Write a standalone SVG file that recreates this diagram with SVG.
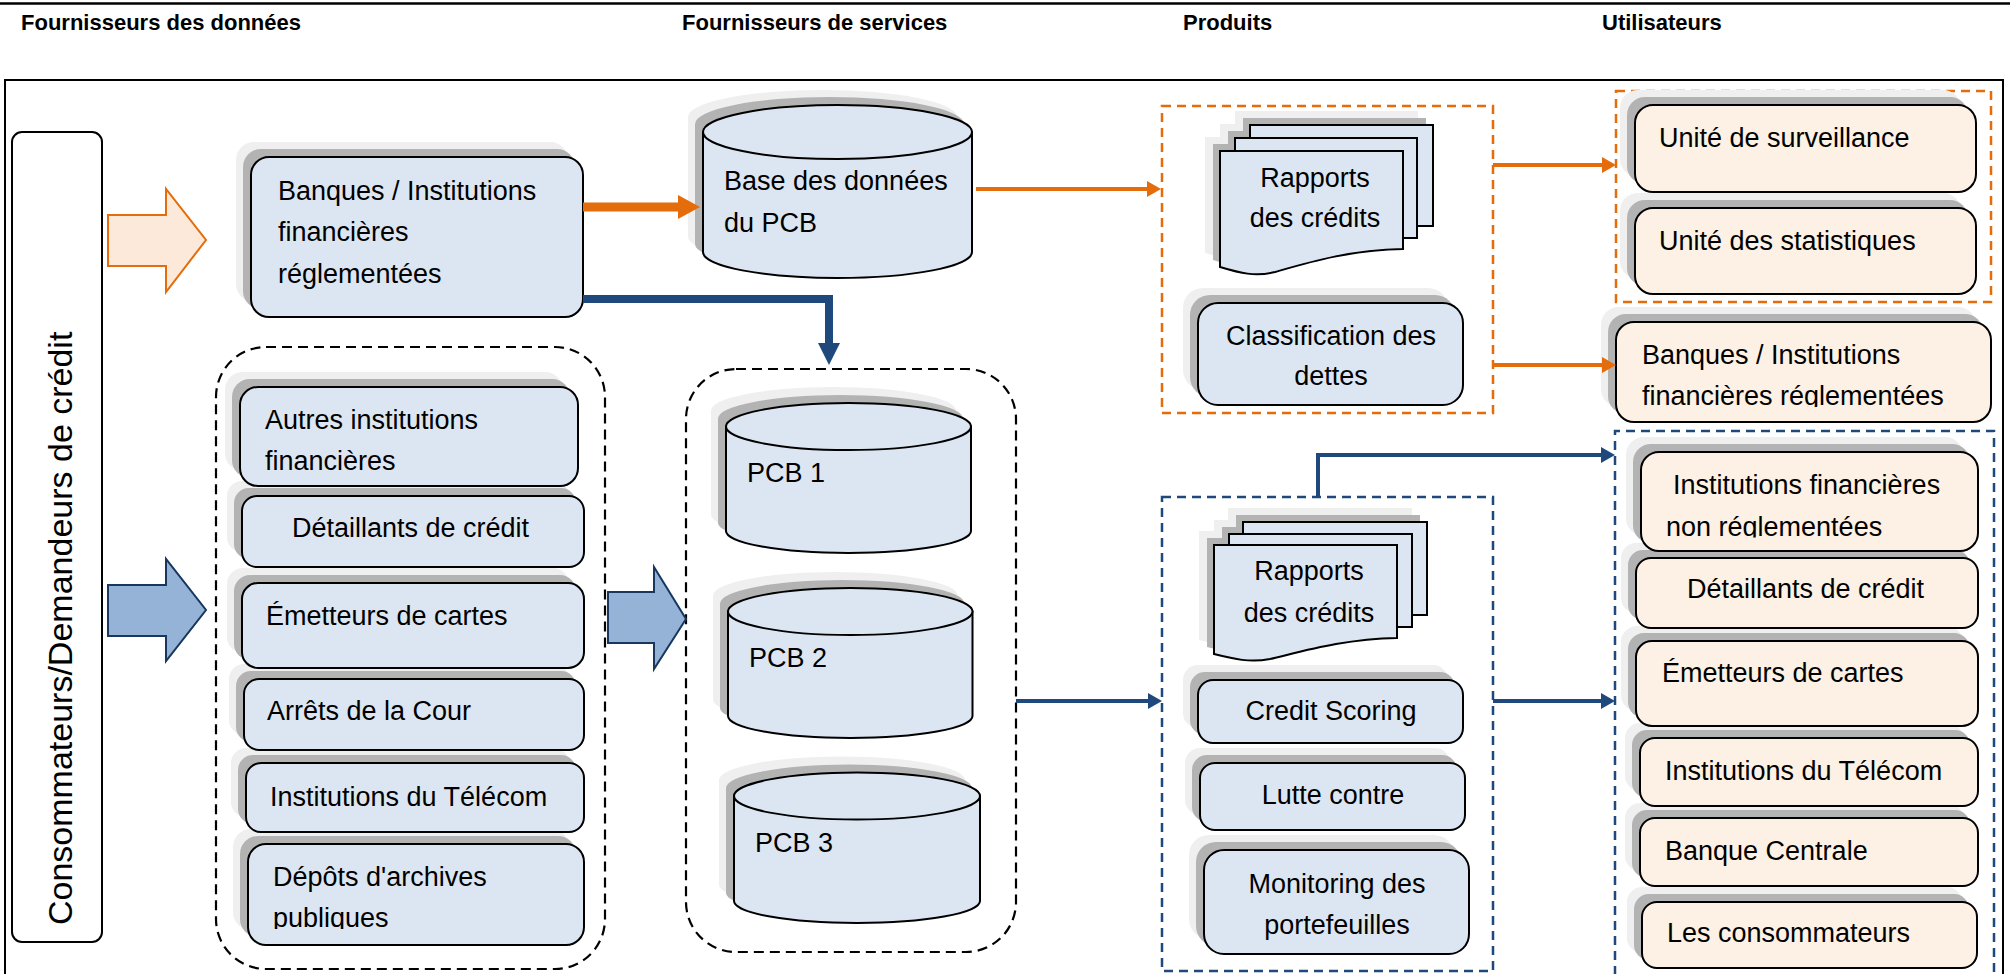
<svg xmlns="http://www.w3.org/2000/svg" xmlns:xlink="http://www.w3.org/1999/xlink" width="2010" height="974" viewBox="0 0 2010 974">
  <defs>
    <style>
      .hdr { font-family: "Liberation Sans", Arial, sans-serif; font-weight: bold; font-size: 22px; fill: #000; }
      .lbl { font-family: "Liberation Sans", Arial, sans-serif; font-size: 27px; fill: #000; }
      .mid { text-anchor: middle; }
      .side { font-family: "Liberation Sans", Arial, sans-serif; font-size: 34px; fill: #000; }
      .sh1 { fill: #efefef; }
      .sh2 { fill: #b3b3b3; }
      .bx { fill: #dce6f2; stroke: #000; stroke-width: 2; }
      .px { fill: #fdf0e4; stroke: #000; stroke-width: 2; }
      .grp-k { fill: none; stroke: #000; stroke-width: 2.2; stroke-dasharray: 10 6; }
      .grp-o { fill: none; stroke: #e46c0a; stroke-width: 2.5; stroke-dasharray: 9 6; }
      .grp-b { fill: none; stroke: #1f497d; stroke-width: 2.5; stroke-dasharray: 9 6; }
      .ln-o { fill: none; stroke: #e46c0a; stroke-width: 4; }
      .ln-b { fill: none; stroke: #1f497d; stroke-width: 4; }
      .ln-o-thick { fill: none; stroke: #e46c0a; stroke-width: 9; }
      .ln-b-thick { fill: none; stroke: #1f497d; stroke-width: 8; }
    </style>
    <marker id="ah-o" markerUnits="userSpaceOnUse" markerWidth="14" markerHeight="16" refX="1" refY="8" orient="auto" viewBox="0 0 14 16">
      <path d="M0,0 L14,8 L0,16 Z" fill="#e46c0a"/>
    </marker>
    <marker id="ah-b" markerUnits="userSpaceOnUse" markerWidth="14" markerHeight="16" refX="1" refY="8" orient="auto" viewBox="0 0 14 16">
      <path d="M0,0 L14,8 L0,16 Z" fill="#1f497d"/>
    </marker>
    <marker id="ah-o-thick" markerUnits="userSpaceOnUse" markerWidth="22" markerHeight="24" refX="2" refY="12" orient="auto" viewBox="0 0 22 24">
      <path d="M0,0 L22,12 L0,24 Z" fill="#e46c0a"/>
    </marker>
    <marker id="ah-b-thick" markerUnits="userSpaceOnUse" markerWidth="22" markerHeight="22" refX="2" refY="11" orient="auto" viewBox="0 0 22 22">
      <path d="M0,0 L22,11 L0,22 Z" fill="#1f497d"/>
    </marker>

    <!-- cylinder outlines (fill/stroke come from the <use>) -->
    <g id="cyl-base">
      <path d="M703,132 V252 A134.5,26 0 0 0 972,252 V132 Z"/>
      <ellipse cx="837.5" cy="132" rx="134.5" ry="27"/>
    </g>
    <g id="cyl-1">
      <path d="M726,426.5 V531 A122.5,22 0 0 0 971,531 V426.5 Z"/>
      <ellipse cx="848.5" cy="426.5" rx="122.5" ry="23.5"/>
    </g>
    <g id="cyl-2">
      <path d="M728,611.5 V716 A122.25,22 0 0 0 972.5,716 V611.5 Z"/>
      <ellipse cx="850.25" cy="611.5" rx="122.25" ry="23.5"/>
    </g>
    <g id="cyl-3">
      <path d="M734,796 V901 A123,22 0 0 0 980,901 V796 Z"/>
      <ellipse cx="857" cy="796" rx="123" ry="23.5"/>
    </g>

    <!-- stacked report sheets -->
    <g id="stack-top">
      <rect x="1250" y="125" width="183" height="101"/>
      <rect x="1235" y="138" width="182" height="100"/>
      <path d="M1220,151 H1403 V249 C1350,250 1310,262 1275,272 C1255,277 1240,273 1220,267 Z"/>
    </g>
    <g id="stack-bot">
      <rect x="1243" y="522" width="184" height="93"/>
      <rect x="1229" y="534" width="183" height="93"/>
      <path d="M1214,545 H1397 V638 C1344,639 1304,651 1270,659 C1250,663 1234,659 1214,654 Z"/>
    </g>

    <clipPath id="clip-banques-r"><rect x="1610" y="320" width="390" height="87"/></clipPath>
    <clipPath id="clip-ifnr"><rect x="1635" y="450" width="350" height="87.5"/></clipPath>
    <clipPath id="clip-depots"><rect x="240" y="840" width="350" height="89"/></clipPath>
  </defs>

  <rect x="0" y="0" width="2010" height="974" fill="#ffffff"/>

  <!-- page frame -->
  <g id="frame">
    <line x1="0" y1="3.5" x2="2010" y2="3.5" stroke="#000" stroke-width="2.5"/>
    <path d="M5,990 V80 H2003 V990" fill="none" stroke="#000" stroke-width="2"/>
  </g>

  <!-- column headings -->
  <g id="headings">
    <text class="hdr" x="21" y="30">Fournisseurs des données</text>
    <text class="hdr" x="682" y="30">Fournisseurs de services</text>
    <text class="hdr" x="1183" y="30">Produits</text>
    <text class="hdr" x="1602" y="30">Utilisateurs</text>
  </g>

  <!-- grouping frames -->
  <g id="groups">
    <rect id="grp-providers" class="grp-k" x="216" y="347" width="389" height="622" rx="50"/>
    <rect id="grp-pcb" class="grp-k" x="686" y="369" width="330" height="583" rx="50"/>
    <rect id="grp-products-o" class="grp-o" x="1162" y="106" width="331" height="307"/>
    <rect id="grp-users-o" class="grp-o" x="1616" y="91" width="375" height="211"/>
    <rect id="grp-products-b" class="grp-b" x="1162" y="497" width="331" height="474"/>
    <path id="grp-users-b" class="grp-b" d="M1615,990 V431 H1994 V990"/>
  </g>

  <!-- consumers side bar -->
  <g id="n-consumers">
    <rect x="12" y="132" width="90" height="810" rx="10" fill="#fff" stroke="#000" stroke-width="2"/>
    <text class="side" transform="translate(72,925) rotate(-90)">Consommateurs/Demandeurs de crédit</text>
  </g>

  <!-- block arrows -->
  <g id="n-arrow-regulated">
    <polygon points="108,215 166,215 166,189 206,240 166,292 166,266 108,266" fill="#fde9d9" stroke="#e46c0a" stroke-width="2"/>
  </g>
  <g id="n-arrow-others">
    <polygon points="108,585 166,585 166,559 206,610 166,661 166,636 108,636" fill="#95b3d7" stroke="#17375e" stroke-width="2"/>
  </g>
  <g id="n-arrow-pcb">
    <polygon points="608,592 654,592 654,567 686,619 654,669 654,643 608,643" fill="#95b3d7" stroke="#17375e" stroke-width="2"/>
  </g>

  <!-- data providers -->
  <g id="n-banques">
    <rect class="sh1" x="236" y="142" width="332" height="160" rx="18"/>
    <rect class="sh2" x="243" y="149" width="332" height="160" rx="18"/>
    <rect class="bx" x="251" y="157" width="332" height="160" rx="18"/>
    <text class="lbl" x="278" y="200">Banques / Institutions</text>
    <text class="lbl" x="278" y="241">financières</text>
    <text class="lbl" x="278" y="283">réglementées</text>
  </g>
  <g id="n-depots">
    <rect class="sh1" x="233" y="829" width="336" height="101" rx="18"/>
    <rect class="sh2" x="240" y="836" width="336" height="101" rx="18"/>
    <rect class="bx" x="248" y="844" width="336" height="101" rx="18"/>
    <g clip-path="url(#clip-depots)">
      <text class="lbl" x="273" y="886">Dépôts d'archives</text>
      <text class="lbl" x="273" y="927">publiques</text>
    </g>
  </g>
  <g id="n-telecom-l">
    <rect class="sh1" x="231" y="748" width="338" height="69" rx="15"/>
    <rect class="sh2" x="238" y="755" width="338" height="69" rx="15"/>
    <rect class="bx" x="246" y="763" width="338" height="69" rx="15"/>
    <text class="lbl" x="270" y="806">Institutions du Télécom</text>
  </g>
  <g id="n-arrets">
    <rect class="sh1" x="229" y="664" width="340" height="71" rx="15"/>
    <rect class="sh2" x="236" y="671" width="340" height="71" rx="15"/>
    <rect class="bx" x="244" y="679" width="340" height="71" rx="15"/>
    <text class="lbl" x="267" y="720">Arrêts de la Cour</text>
  </g>
  <g id="n-emetteurs-l">
    <rect class="sh1" x="227" y="568" width="342" height="85" rx="16"/>
    <rect class="sh2" x="234" y="575" width="342" height="85" rx="16"/>
    <rect class="bx" x="242" y="583" width="342" height="85" rx="16"/>
    <text class="lbl" x="266" y="625">Émetteurs de cartes</text>
  </g>
  <g id="n-detaillants-l">
    <rect class="sh1" x="227" y="481" width="342" height="71" rx="15"/>
    <rect class="sh2" x="234" y="488" width="342" height="71" rx="15"/>
    <rect class="bx" x="242" y="496" width="342" height="71" rx="15"/>
    <text class="lbl" x="292" y="537">Détaillants de crédit</text>
  </g>
  <g id="n-autres">
    <rect class="sh1" x="225" y="372" width="338" height="99" rx="18"/>
    <rect class="sh2" x="232" y="379" width="338" height="99" rx="18"/>
    <rect class="bx" x="240" y="387" width="338" height="99" rx="18"/>
    <text class="lbl" x="265" y="429">Autres institutions</text>
    <text class="lbl" x="265" y="470">financières</text>
  </g>

  <!-- service providers -->
  <g id="n-base-pcb">
    <use xlink:href="#cyl-base" class="sh1" transform="translate(-15,-15)"/>
    <use xlink:href="#cyl-base" class="sh2" transform="translate(-8,-8)"/>
    <use xlink:href="#cyl-base" class="bx"/>
    <text class="lbl" x="724" y="190">Base des données</text>
    <text class="lbl" x="724" y="232">du PCB</text>
  </g>
  <g id="n-pcb1">
    <use xlink:href="#cyl-1" class="sh1" transform="translate(-15,-16)"/>
    <use xlink:href="#cyl-1" class="sh2" transform="translate(-8,-8)"/>
    <use xlink:href="#cyl-1" class="bx"/>
    <text class="lbl" x="747" y="482">PCB 1</text>
  </g>
  <g id="n-pcb2">
    <use xlink:href="#cyl-2" class="sh1" transform="translate(-15,-16)"/>
    <use xlink:href="#cyl-2" class="sh2" transform="translate(-8,-8)"/>
    <use xlink:href="#cyl-2" class="bx"/>
    <text class="lbl" x="749" y="667">PCB 2</text>
  </g>
  <g id="n-pcb3">
    <use xlink:href="#cyl-3" class="sh1" transform="translate(-15,-16)"/>
    <use xlink:href="#cyl-3" class="sh2" transform="translate(-8,-8)"/>
    <use xlink:href="#cyl-3" class="bx"/>
    <text class="lbl" x="755" y="852">PCB 3</text>
  </g>

  <!-- products -->
  <g id="n-rapports-1">
    <use xlink:href="#stack-top" class="sh1" transform="translate(-15,-14)"/>
    <use xlink:href="#stack-top" class="sh2" transform="translate(-7,-7)"/>
    <use xlink:href="#stack-top" class="bx"/>
    <text class="lbl mid" x="1315" y="187">Rapports</text>
    <text class="lbl mid" x="1315" y="227">des crédits</text>
  </g>
  <g id="n-classification">
    <rect class="sh1" x="1183" y="288" width="265" height="102" rx="20"/>
    <rect class="sh2" x="1190" y="295" width="265" height="102" rx="20"/>
    <rect class="bx" x="1198" y="303" width="265" height="102" rx="20"/>
    <text class="lbl mid" x="1331" y="345">Classification des</text>
    <text class="lbl mid" x="1331" y="385">dettes</text>
  </g>
  <g id="n-rapports-2">
    <use xlink:href="#stack-bot" class="sh1" transform="translate(-15,-14)"/>
    <use xlink:href="#stack-bot" class="sh2" transform="translate(-7,-7)"/>
    <use xlink:href="#stack-bot" class="bx"/>
    <text class="lbl mid" x="1309" y="580">Rapports</text>
    <text class="lbl mid" x="1309" y="622">des crédits</text>
  </g>
  <g id="n-monitoring">
    <rect class="sh1" x="1189" y="835" width="265" height="104" rx="20"/>
    <rect class="sh2" x="1196" y="842" width="265" height="104" rx="20"/>
    <rect class="bx" x="1204" y="850" width="265" height="104" rx="20"/>
    <text class="lbl mid" x="1337" y="893">Monitoring des</text>
    <text class="lbl mid" x="1337" y="934">portefeuilles</text>
  </g>
  <g id="n-lutte">
    <rect class="sh1" x="1185" y="748" width="265" height="67" rx="15"/>
    <rect class="sh2" x="1192" y="755" width="265" height="67" rx="15"/>
    <rect class="bx" x="1200" y="763" width="265" height="67" rx="15"/>
    <text class="lbl mid" x="1333" y="804">Lutte contre</text>
  </g>
  <g id="n-scoring">
    <rect class="sh1" x="1183" y="665" width="265" height="63" rx="15"/>
    <rect class="sh2" x="1190" y="672" width="265" height="63" rx="15"/>
    <rect class="bx" x="1198" y="680" width="265" height="63" rx="15"/>
    <text class="lbl mid" x="1331" y="720">Credit Scoring</text>
  </g>

  <!-- users -->
  <g id="n-consommateurs">
    <rect class="sh1" x="1627" y="887" width="335" height="66" rx="15"/>
    <rect class="sh2" x="1634" y="894" width="335" height="66" rx="15"/>
    <rect class="px" x="1642" y="902" width="335" height="66" rx="15"/>
    <text class="lbl" x="1667" y="942">Les consommateurs</text>
  </g>
  <g id="n-banque-centrale">
    <rect class="sh1" x="1625" y="803" width="338" height="68" rx="15"/>
    <rect class="sh2" x="1632" y="810" width="338" height="68" rx="15"/>
    <rect class="px" x="1640" y="818" width="338" height="68" rx="15"/>
    <text class="lbl" x="1665" y="860">Banque Centrale</text>
  </g>
  <g id="n-telecom-r">
    <rect class="sh1" x="1625" y="723" width="338" height="68" rx="15"/>
    <rect class="sh2" x="1632" y="730" width="338" height="68" rx="15"/>
    <rect class="px" x="1640" y="738" width="338" height="68" rx="15"/>
    <text class="lbl" x="1665" y="780">Institutions du Télécom</text>
  </g>
  <g id="n-emetteurs-r">
    <rect class="sh1" x="1621" y="626" width="342" height="85" rx="16"/>
    <rect class="sh2" x="1628" y="633" width="342" height="85" rx="16"/>
    <rect class="px" x="1636" y="641" width="342" height="85" rx="16"/>
    <text class="lbl" x="1662" y="682">Émetteurs de cartes</text>
  </g>
  <g id="n-detaillants-r">
    <rect class="sh1" x="1621" y="543" width="342" height="70" rx="15"/>
    <rect class="sh2" x="1628" y="550" width="342" height="70" rx="15"/>
    <rect class="px" x="1636" y="558" width="342" height="70" rx="15"/>
    <text class="lbl" x="1687" y="598">Détaillants de crédit</text>
  </g>
  <g id="n-ifnr">
    <rect class="sh1" x="1626" y="437" width="337" height="99" rx="18"/>
    <rect class="sh2" x="1633" y="444" width="337" height="99" rx="18"/>
    <rect class="px" x="1641" y="452" width="337" height="99" rx="18"/>
    <g clip-path="url(#clip-ifnr)">
      <text class="lbl" x="1673" y="494">Institutions financières</text>
      <text class="lbl" x="1666" y="536">non réglementées</text>
    </g>
  </g>
  <g id="n-banques-r">
    <rect class="sh1" x="1601" y="307" width="375" height="100" rx="18"/>
    <rect class="sh2" x="1608" y="314" width="375" height="100" rx="18"/>
    <rect class="px" x="1616" y="322" width="375" height="100" rx="18"/>
    <g clip-path="url(#clip-banques-r)">
      <text class="lbl" x="1642" y="364">Banques / Institutions</text>
      <text class="lbl" x="1642" y="405">financières réglementées</text>
    </g>
  </g>
  <g id="n-statistiques">
    <rect class="sh1" x="1620" y="193" width="341" height="86" rx="18"/>
    <rect class="sh2" x="1627" y="200" width="341" height="86" rx="18"/>
    <rect class="px" x="1635" y="208" width="341" height="86" rx="18"/>
    <text class="lbl" x="1659" y="250">Unité des statistiques</text>
  </g>
  <g id="n-surveillance">
    <rect class="sh1" x="1620" y="90" width="341" height="87" rx="18"/>
    <rect class="sh2" x="1627" y="97" width="341" height="87" rx="18"/>
    <rect class="px" x="1635" y="105" width="341" height="87" rx="18"/>
    <text class="lbl" x="1659" y="147">Unité de surveillance</text>
  </g>

  <!-- connectors -->
  <g id="connectors">
    <path class="ln-o-thick" d="M583,207 H680" marker-end="url(#ah-o-thick)"/>
    <path class="ln-b-thick" d="M583,299 H829 V345" marker-end="url(#ah-b-thick)"/>
    <path class="ln-o" d="M976,189 H1148" marker-end="url(#ah-o)"/>
    <path class="ln-o" d="M1493,165 H1603" marker-end="url(#ah-o)"/>
    <path class="ln-o" d="M1493,365 H1603" marker-end="url(#ah-o)"/>
    <path class="ln-b" d="M1016,701 H1149" marker-end="url(#ah-b)"/>
    <path class="ln-b" d="M1493,701 H1602" marker-end="url(#ah-b)"/>
    <path class="ln-b" d="M1318,497 V455 H1602" marker-end="url(#ah-b)"/>
  </g>
</svg>
